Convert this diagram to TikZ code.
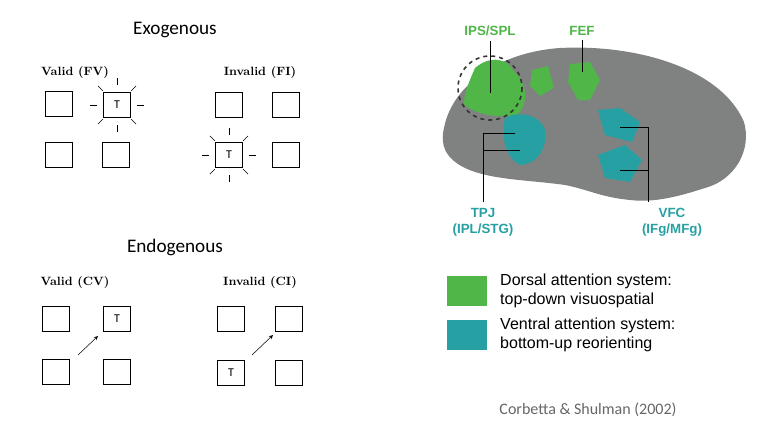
\documentclass[tikz,border=0pt]{standalone}
\usepackage{fontspec}
\setsansfont{Carlito}
\newfontfamily\lblfont{Liberation Sans}
\usetikzlibrary{positioning}
\definecolor{dorsal}{RGB}{80,182,72}
\definecolor{ventral}{RGB}{38,160,163}
\definecolor{cortex}{RGB}{128,130,130}
\begin{document}
\begin{tikzpicture}[x=0.75pt,y=-0.75pt,
  semithick]
  \tikzset{cue/.style={draw,minimum width=20pt,minimum height=19pt,inner sep=0pt,font=\sffamily\small},
    cond/.style={font=\bfseries\small},
    head/.style={font=\sffamily\Large},
    area/.style={font=\lblfont\bfseries\normalsize,align=center},
    legend/.style={font=\lblfont\large,align=left,anchor=west}}
  \useasboundingbox (0,0) rectangle (765,429);

  % exogenous cueing
  \node[head] (exo) at (175,30) {Exogenous};
  \node[cond] (fv) at (75,72) {Valid (FV)};
  \node[cue] (fv1) at (59,104) {};
  \node[cue] (fv2) at (117,105) {T};
  \node[cue] (fv3) at (59,155) {};
  \node[cue] (fv4) at (116,155) {};
  \node[cond] (fi) at (260,72) {Invalid (FI)};
  \node[cue] (fi1) at (229,105) {};
  \node[cue] (fi2) at (286,105) {};
  \node[cue] (fi3) at (229,155) {T};
  \node[cue] (fi4) at (286,155) {};
  \foreach \t in {fv2,fi3}
    \foreach \a in {0,45,...,315}
      \draw[thin] (\t.center) ++(\a:20) -- ++(\a:7);

  % endogenous cueing
  \node[head] (endo) at (175,247) {Endogenous};
  \node[cond] (cv) at (75,282) {Valid (CV)};
  \node[cue] (cv1) at (56,319) {};
  \node[cue] (cv2) at (117,319) {T};
  \node[cue] (cv3) at (56,372) {};
  \node[cue] (cv4) at (117,372) {};
  \node[cond] (ci) at (260,282) {Invalid (CI)};
  \node[cue] (ci1) at (231,319) {};
  \node[cue] (ci2) at (289,319) {};
  \node[cue] (ci3) at (231,373) {T};
  \node[cue] (ci4) at (289,373) {};
  \coordinate (cva) at (78,355);
  \coordinate (cvb) at (98,336);
  \coordinate (cia) at (252,355);
  \coordinate (cib) at (273,335);
  \draw[-stealth,thin] (cva) -- (cvb);
  \draw[-stealth,thin] (cia) -- (cib);

  % brain
  \fill[cortex] (444,128) .. controls (452,85) and (500,52) .. (560,48)
    .. controls (640,44) and (722,70) .. (744,122)
    .. controls (752,150) and (735,180) .. (705,188)
    .. controls (680,196) and (655,203) .. (630,200)
    .. controls (600,197) and (590,190) .. (565,185)
    .. controls (530,180) and (490,180) .. (465,168)
    .. controls (445,158) and (440,145) .. (444,128) -- cycle;
  \fill[dorsal] (475,68) .. controls (490,55) and (508,58) .. (514,72)
    .. controls (528,82) and (528,105) .. (518,114)
    .. controls (498,120) and (472,113) .. (464,104)
    .. controls (464,92) and (470,80) .. (475,68) -- cycle;
  \fill[dorsal] (532,70) -- (548,66) -- (554,88) -- (540,96) -- (530,86) -- cycle;
  \fill[dorsal] (570,64) -- (590,62) -- (600,80) -- (590,100) -- (578,100) -- (568,82) -- cycle;
  \fill[ventral] (505,118) .. controls (520,110) and (540,115) .. (545,130)
    .. controls (548,150) and (535,165) .. (520,165)
    .. controls (508,160) and (500,140) .. (505,118) -- cycle;
  \fill[ventral] (598,110) -- (620,108) -- (640,122) -- (632,142) -- (605,135) -- cycle;
  \fill[ventral] (598,155) -- (625,145) -- (642,160) -- (630,182) -- (605,178) -- cycle;
  \draw[dashed,very thick,black!80] (490,88) circle (32);

  % area labels
  \node[area,text=dorsal] (ips) at (490,31) {IPS/SPL};
  \node[area,text=dorsal] (fef) at (582,31) {FEF};
  \node[area,text=ventral] (tpj) at (483,222) {TPJ\\(IPL/STG)};
  \node[area,text=ventral] (vfc) at (672,222) {VFC\\(IFg/MFg)};
  \coordinate (ipsend) at (491,93);
  \coordinate (fefend) at (582,72);
  \draw[thin] (ips.south) -- (ips.south |- ipsend);
  \draw[thin] (fef.south) -- (fef.south |- fefend);
  \draw[thin] (515,133) -- (483,133) -- (483,202);
  \draw[thin] (520,150) -- (483,150);
  \draw[thin] (620,127) -- (648,127) -- (648,202);
  \draw[thin] (620,170) -- (648,170);

  % legend
  \node[fill=dorsal,minimum width=30pt,minimum height=23pt] (kd) at (467,291) {};
  \node[legend,right=6pt of kd] (td) {Dorsal attention system:\\top-down visuospatial};
  \node[fill=ventral,minimum width=30pt,minimum height=23pt] (kv) at (467,335) {};
  \node[legend,right=6pt of kv] (tv) {Ventral attention system:\\bottom-up reorienting};
  \node[font=\sffamily\large,text=black!60] (cite) at (588,410) {Corbetta \& Shulman (2002)};
\end{tikzpicture}
\end{document}
